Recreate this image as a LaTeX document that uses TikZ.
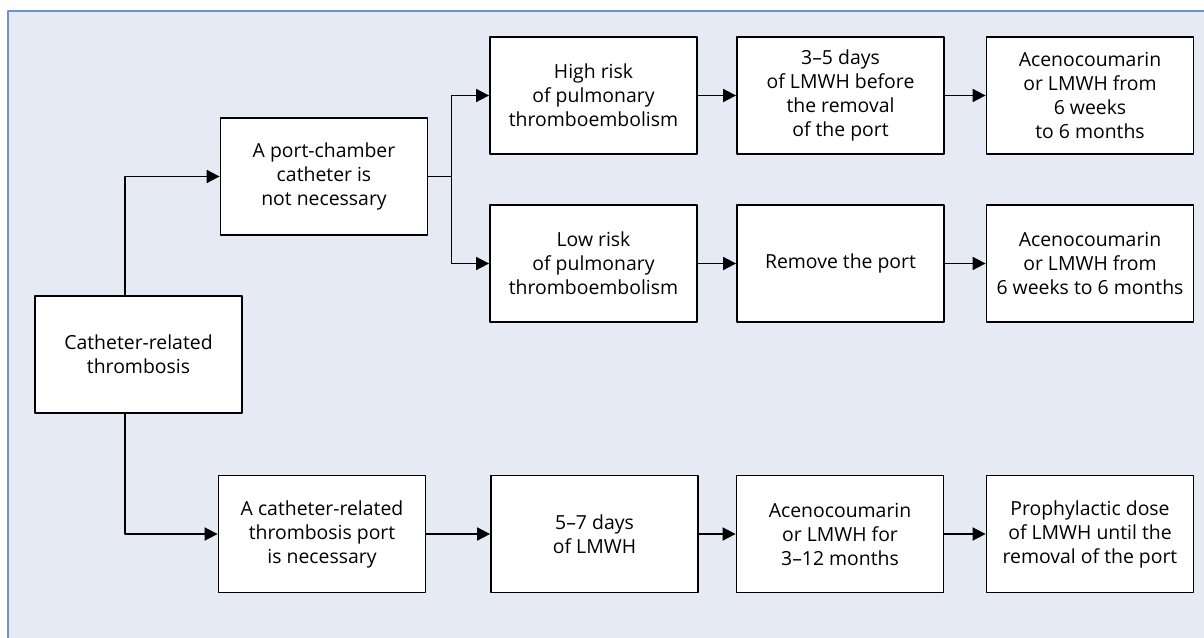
\documentclass[tikz,border=0pt]{standalone}
\usepackage{fontspec}
\setmainfont{Open Sans}
\usetikzlibrary{arrows.meta}
\definecolor{panel}{RGB}{230,234,245}
\definecolor{framecol}{RGB}{110,145,210}
\begin{document}
\begin{tikzpicture}[x=0.5pt,y=-0.5pt,line join=round,font=\fontsize{9.7}{12}\selectfont,>={Triangle[length=6.5pt,width=6.5pt]},
		box/.style={draw,fill=white,line width=0.9pt,minimum width=103.5pt,minimum height=58.5pt,inner sep=0pt,align=center},
		arr/.style={->,line width=0.9pt}]
	\useasboundingbox (0,0) rectangle (1204,637);
	\clip (0,0) rectangle (1204,637);
	\draw[framecol,fill=panel,line width=0.6pt] (8,11) rectangle (1230,660);
	\node[box] (cat) at (138.5,354.5) {Catheter-related\\thrombosis};
	\node[box] (notnec) at (324,176.5) {A port-chamber\\catheter is\\not necessary};
	\node[box] (nec) at (322,534) {A catheter-related\\thrombosis port\\is necessary};
	\node[box] (high) at (593.5,95.5) {High risk\\of pulmonary\\thromboembolism};
	\node[box] (low) at (593.5,263.5) {Low risk\\of pulmonary\\thromboembolism};
	\node[box] (days35) at (840.5,95.5) {3--5 days\\of LMWH before\\the removal\\of the port};
	\node[box] (aceno1) at (1090,95.5) {Acenocoumarin\\or LMWH from\\6 weeks\\to 6 months};
	\node[box] (remove) at (840.5,263.5) {Remove the port};
	\node[box] (aceno2) at (1090,263.5) {Acenocoumarin\\or LMWH from\\6 weeks to 6 months};
	\node[box] (days57) at (594.5,534) {5--7 days\\of LMWH};
	\node[box] (aceno3) at (840,534) {Acenocoumarin\\or LMWH for\\3--12 months};
	\node[box] (proph) at (1090,534) {Prophylactic dose\\of LMWH until the\\removal of the port};
	\coordinate (trunk) at (125,354.5);
	\draw[arr] (trunk |- cat.north) |- (notnec.west);
	\draw[arr] (trunk |- cat.south) |- (nec.west);
	\draw[line width=0.9pt] (notnec.east) -- ++(23,0) coordinate (split);
	\draw[arr] (split) |- (high.west);
	\draw[arr] (split) |- (low.west);
	\draw[arr] (high) -- (days35);
	\draw[arr] (days35) -- (aceno1);
	\draw[arr] (low) -- (remove);
	\draw[arr] (remove) -- (aceno2);
	\draw[arr] (nec) -- (days57);
	\draw[arr] (days57) -- (aceno3);
	\draw[arr] (aceno3) -- (proph);
\end{tikzpicture}
\end{document}
